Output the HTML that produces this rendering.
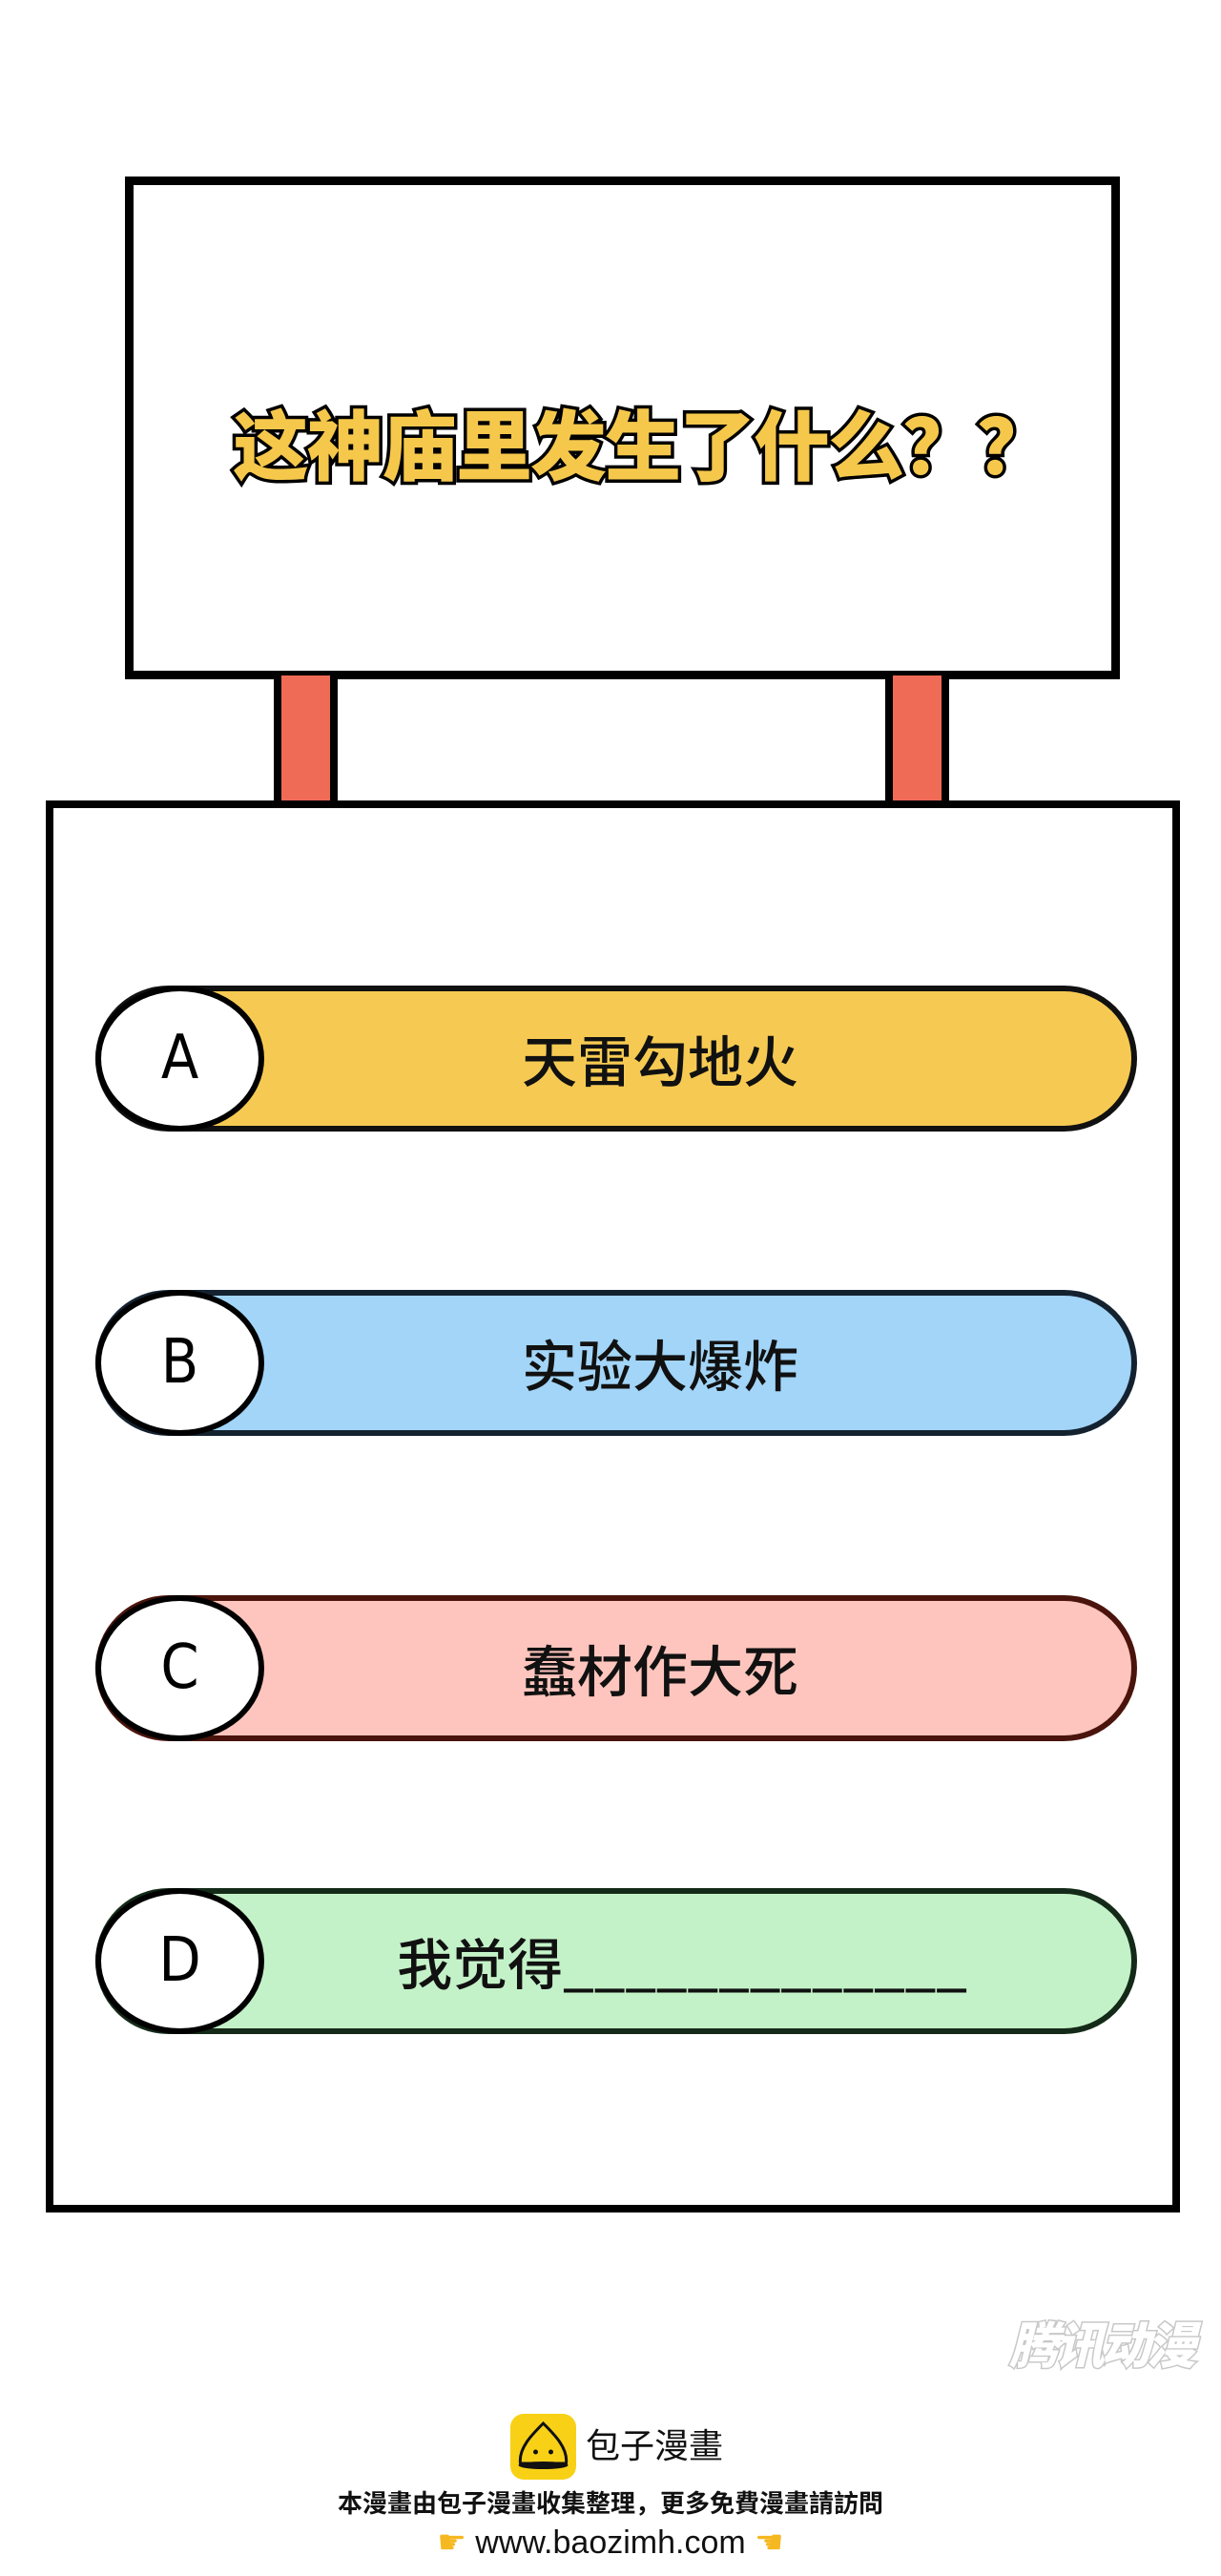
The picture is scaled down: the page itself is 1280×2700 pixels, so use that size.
<!DOCTYPE html>
<html><head><meta charset="utf-8"><style>
body{margin:0;width:1280px;height:2700px;background:#fff;position:relative;overflow:hidden;font-family:"Liberation Sans","Noto Sans CJK SC",sans-serif;}
.abs{position:absolute;box-sizing:border-box;}
.board{left:131px;top:185px;width:1043px;height:527px;border:9px solid #000;}
.post{top:708px;width:67px;height:135px;background:#f06b55;border:8px solid #000;border-top:none;border-bottom:none;}
.box{left:48px;top:839px;width:1189px;height:1480px;border:8px solid #000;}
.title{left:148px;top:405px;width:1050px;text-align:center;font-size:80px;font-weight:900;color:#f5c84c;-webkit-text-stroke:7px #000;paint-order:stroke fill;letter-spacing:-2px;font-family:"Noto Sans CJK SC",sans-serif;line-height:116px;}
.pill{left:100px;width:1092px;height:153px;border:6px solid #000;border-radius:77px;}
.circ{left:100px;width:177px;height:153px;border:6px solid #000;border-radius:50%;background:#fff;text-align:center;line-height:141px;font-size:64px;color:#000;font-family:"DejaVu Sans Condensed","DejaVu Sans",sans-serif;}
.ptxt{left:277px;width:830px;height:153px;line-height:153px;text-align:center;font-size:58px;font-weight:500;font-family:"Noto Sans CJK SC",sans-serif;color:#111;}
</style></head><body>
<div class="abs board"></div>
<div class="abs title">这神庙里发生了什么？？</div>
<div class="abs post" style="left:287px"></div>
<div class="abs post" style="left:928px"></div>
<div class="abs box"></div>

<div class="abs pill" style="top:1033px;background:#f6ca52;border-color:#111"></div>
<div class="abs circ" style="top:1033px">A</div>
<div class="abs ptxt" style="top:1033px">天雷勾地火</div>

<div class="abs pill" style="top:1352px;background:#a2d5f8;border-color:#142230"></div>
<div class="abs circ" style="top:1352px">B</div>
<div class="abs ptxt" style="top:1352px">实验大爆炸</div>

<div class="abs pill" style="top:1672px;background:#fdc5bd;border-color:#4a140c"></div>
<div class="abs circ" style="top:1672px">C</div>
<div class="abs ptxt" style="top:1672px">蠢材作大死</div>

<div class="abs pill" style="top:1979px;background:#c4f2c8;border-color:#142a18"></div>
<div class="abs circ" style="top:1979px">D</div>
<div class="abs ptxt" style="top:1979px;left:300px">我觉得_____________</div>

<div class="abs" style="left:1058px;top:2420px;font-size:52px;line-height:70px;font-weight:900;font-style:italic;color:#fff;-webkit-text-stroke:3px #c8c8c8;paint-order:stroke fill;font-family:'Noto Sans CJK SC',sans-serif;letter-spacing:-4px">腾讯动漫</div>

<div class="abs" style="left:535px;top:2530px;width:69px;height:69px;background:#f8d117;border-radius:14px;">
<svg width="69" height="69" viewBox="0 0 68 69"><path d="M34 10 C22 22 8 36 10 52 L58 52 C60 36 46 22 34 10Z" fill="#f8d117" stroke="#111" stroke-width="3"/><ellipse cx="34" cy="54" rx="26" ry="4" fill="#111"/><circle cx="26" cy="40" r="2.5" fill="#111"/><circle cx="42" cy="40" r="2.5" fill="#111"/></svg></div>
<div class="abs" style="left:614px;top:2540px;font-size:36px;line-height:48px;color:#111;">包子漫畫</div>
<div class="abs" style="left:340px;top:2606px;width:600px;text-align:center;font-size:26px;line-height:36px;color:#111;font-weight:bold">本漫畫由包子漫畫收集整理，更多免費漫畫請訪問</div>
<div class="abs" style="left:340px;top:2643px;width:600px;text-align:center;font-size:34px;line-height:44px;color:#111;"><span style="color:#f5b820">☛</span> www.baozimh.com <span style="color:#f5b820">☚</span></div>
</body></html>
